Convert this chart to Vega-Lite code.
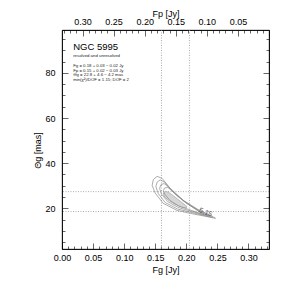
{
  "$schema": "https://vega.github.io/schema/vega-lite/v6.json",
  "width": 207,
  "height": 219,
  "autosize": {"type": "none"},
  "padding": {"left": 62, "top": 30, "right": 30, "bottom": 45},
  "background": "white",
  "config": {
    "view": {"stroke": "black", "strokeWidth": 0.8},
    "font": "Liberation Sans",
    "axis": {
      "grid": false,
      "domainColor": "black",
      "domainWidth": 0.8,
      "tickColor": "black",
      "tickWidth": 0.6,
      "labelColor": "black",
      "titleColor": "black",
      "labelFont": "Liberation Sans",
      "titleFont": "Liberation Sans",
      "labelFontSize": 9,
      "titleFontSize": 9,
      "titleFontWeight": "normal"
    }
  },
  "datasets": {
    "cont": [
      {"c": 1, "o": 0, "fg": 0.247, "th": 15.6},
      {"c": 1, "o": 1, "fg": 0.206, "th": 17.8},
      {"c": 1, "o": 2, "fg": 0.185, "th": 19.1},
      {"c": 1, "o": 3, "fg": 0.163, "th": 22.2},
      {"c": 1, "o": 4, "fg": 0.150, "th": 26.7},
      {"c": 1, "o": 5, "fg": 0.145, "th": 30.2},
      {"c": 1, "o": 6, "fg": 0.147, "th": 32.8},
      {"c": 1, "o": 7, "fg": 0.153, "th": 34.2},
      {"c": 1, "o": 8, "fg": 0.161, "th": 33.3},
      {"c": 1, "o": 9, "fg": 0.174, "th": 28.9},
      {"c": 1, "o": 10, "fg": 0.195, "th": 23.6},
      {"c": 1, "o": 11, "fg": 0.218, "th": 19.6},
      {"c": 1, "o": 12, "fg": 0.239, "th": 16.9},
      {"c": 1, "o": 13, "fg": 0.247, "th": 15.6},
      {"c": 2, "o": 0, "fg": 0.242, "th": 16.0},
      {"c": 2, "o": 1, "fg": 0.205, "th": 18.4},
      {"c": 2, "o": 2, "fg": 0.186, "th": 19.7},
      {"c": 2, "o": 3, "fg": 0.166, "th": 22.6},
      {"c": 2, "o": 4, "fg": 0.155, "th": 26.5},
      {"c": 2, "o": 5, "fg": 0.151, "th": 29.6},
      {"c": 2, "o": 6, "fg": 0.153, "th": 31.6},
      {"c": 2, "o": 7, "fg": 0.158, "th": 32.6},
      {"c": 2, "o": 8, "fg": 0.165, "th": 31.6},
      {"c": 2, "o": 9, "fg": 0.177, "th": 27.8},
      {"c": 2, "o": 10, "fg": 0.197, "th": 23.0},
      {"c": 2, "o": 11, "fg": 0.219, "th": 19.3},
      {"c": 2, "o": 12, "fg": 0.236, "th": 16.9},
      {"c": 2, "o": 13, "fg": 0.242, "th": 16.0},
      {"c": 3, "o": 0, "fg": 0.236, "th": 16.5},
      {"c": 3, "o": 1, "fg": 0.204, "th": 19.0},
      {"c": 3, "o": 2, "fg": 0.187, "th": 20.4},
      {"c": 3, "o": 3, "fg": 0.170, "th": 23.0},
      {"c": 3, "o": 4, "fg": 0.160, "th": 26.3},
      {"c": 3, "o": 5, "fg": 0.157, "th": 28.8},
      {"c": 3, "o": 6, "fg": 0.159, "th": 30.4},
      {"c": 3, "o": 7, "fg": 0.164, "th": 31.0},
      {"c": 3, "o": 8, "fg": 0.170, "th": 29.8},
      {"c": 3, "o": 9, "fg": 0.181, "th": 26.6},
      {"c": 3, "o": 10, "fg": 0.199, "th": 22.5},
      {"c": 3, "o": 11, "fg": 0.219, "th": 19.0},
      {"c": 3, "o": 12, "fg": 0.232, "th": 17.1},
      {"c": 3, "o": 13, "fg": 0.236, "th": 16.5},
      {"c": 4, "o": 0, "fg": 0.228, "th": 17.2},
      {"c": 4, "o": 1, "fg": 0.203, "th": 19.6},
      {"c": 4, "o": 2, "fg": 0.188, "th": 21.0},
      {"c": 4, "o": 3, "fg": 0.174, "th": 23.4},
      {"c": 4, "o": 4, "fg": 0.166, "th": 26.0},
      {"c": 4, "o": 5, "fg": 0.163, "th": 27.8},
      {"c": 4, "o": 6, "fg": 0.165, "th": 29.0},
      {"c": 4, "o": 7, "fg": 0.170, "th": 29.3},
      {"c": 4, "o": 8, "fg": 0.176, "th": 28.0},
      {"c": 4, "o": 9, "fg": 0.186, "th": 25.4},
      {"c": 4, "o": 10, "fg": 0.201, "th": 22.2},
      {"c": 4, "o": 11, "fg": 0.218, "th": 19.0},
      {"c": 4, "o": 12, "fg": 0.226, "th": 17.6},
      {"c": 4, "o": 13, "fg": 0.228, "th": 17.2}
    ],
    "blob": [
      {"o": 0, "fg": 0.163, "th": 26.8},
      {"o": 1, "fg": 0.166, "th": 27.5},
      {"o": 2, "fg": 0.171, "th": 27.2},
      {"o": 3, "fg": 0.180, "th": 25.4},
      {"o": 4, "fg": 0.192, "th": 22.8},
      {"o": 5, "fg": 0.201, "th": 20.8},
      {"o": 6, "fg": 0.200, "th": 20.2},
      {"o": 7, "fg": 0.193, "th": 20.5},
      {"o": 8, "fg": 0.181, "th": 21.9},
      {"o": 9, "fg": 0.170, "th": 23.8},
      {"o": 10, "fg": 0.164, "th": 25.5},
      {"o": 11, "fg": 0.163, "th": 26.8}
    ],
    "vr": [{"fg": 0.16}, {"fg": 0.205}],
    "hr": [{"th": 27.4}, {"th": 18.6}],
    "clabel": [{"fg": 0.231, "th": 18.2, "t": "5.15"}],
    "title": [{"fg": 0.018, "th": 91.6, "t": "NGC 5995"}],
    "notes": [
      {"fg": 0.018, "th": 87.3, "t": "resolved and unresolved"},
      {"fg": 0.018, "th": 82.9, "t": "Fg = 0.18 + 0.03 − 0.02 Jy"},
      {"fg": 0.018, "th": 80.9, "t": "Fp = 0.15 + 0.02 − 0.03 Jy"},
      {"fg": 0.018, "th": 78.9, "t": "Θg = 22.8 +  4.6 −  4.2 mas"},
      {"fg": 0.018, "th": 76.9, "t": "min(χ²)/DOF =  1.15; DOF =  2"}
    ]
  },
  "layer": [
    {
      "layer": [
        {
          "data": {"name": "vr"},
          "mark": {"type": "rule", "color": "#888888", "strokeDash": [1, 1.5], "strokeWidth": 0.7},
          "encoding": {
            "x": {"field": "fg", "type": "quantitative", "scale": {"domain": [0, 0.333], "nice": false, "zero": false}, "axis": null}
          }
        },
        {
          "data": {"name": "hr"},
          "mark": {"type": "rule", "color": "#888888", "strokeDash": [1, 1.5], "strokeWidth": 0.7},
          "encoding": {
            "y": {"field": "th", "type": "quantitative", "scale": {"domain": [2, 99], "nice": false, "zero": false}, "axis": null}
          }
        },
        {
          "data": {"name": "blob"},
          "mark": {"type": "line", "fill": "#d6d6d6", "stroke": "#999999", "strokeWidth": 0.6},
          "encoding": {
            "x": {"field": "fg", "type": "quantitative", "scale": {"domain": [0, 0.333], "nice": false, "zero": false}, "axis": null},
            "y": {"field": "th", "type": "quantitative", "scale": {"domain": [2, 99], "nice": false, "zero": false}, "axis": null},
            "order": {"field": "o", "type": "quantitative"}
          }
        },
        {
          "data": {"name": "cont"},
          "mark": {"type": "line", "stroke": "#8a8a8a", "strokeWidth": 0.7},
          "encoding": {
            "x": {"field": "fg", "type": "quantitative", "scale": {"domain": [0, 0.333], "nice": false, "zero": false}, "axis": null},
            "y": {"field": "th", "type": "quantitative", "scale": {"domain": [2, 99], "nice": false, "zero": false}, "axis": null},
            "detail": {"field": "c", "type": "nominal"},
            "order": {"field": "o", "type": "quantitative"}
          }
        },
        {
          "data": {"name": "clabel"},
          "mark": {"type": "text", "fontSize": 7, "angle": 22, "color": "#555555", "font": "Liberation Sans"},
          "encoding": {
            "x": {"field": "fg", "type": "quantitative", "scale": {"domain": [0, 0.333], "nice": false, "zero": false}, "axis": null},
            "y": {"field": "th", "type": "quantitative", "scale": {"domain": [2, 99], "nice": false, "zero": false}, "axis": null},
            "text": {"field": "t"}
          }
        },
        {
          "data": {"name": "title"},
          "mark": {"type": "text", "fontSize": 9.5, "align": "left", "baseline": "middle", "color": "black", "font": "Liberation Sans"},
          "encoding": {
            "x": {"field": "fg", "type": "quantitative", "scale": {"domain": [0, 0.333], "nice": false, "zero": false}, "axis": null},
            "y": {"field": "th", "type": "quantitative", "scale": {"domain": [2, 99], "nice": false, "zero": false}, "axis": null},
            "text": {"field": "t"}
          }
        },
        {
          "data": {"name": "notes"},
          "mark": {"type": "text", "fontSize": 4.3, "align": "left", "baseline": "middle", "color": "#222222", "font": "Liberation Sans"},
          "encoding": {
            "x": {"field": "fg", "type": "quantitative", "scale": {"domain": [0, 0.333], "nice": false, "zero": false}, "axis": null},
            "y": {"field": "th", "type": "quantitative", "scale": {"domain": [2, 99], "nice": false, "zero": false}, "axis": null},
            "text": {"field": "t"}
          }
        }
      ]
    },
    {
      "data": {"values": [{"fg": 0.1, "th": 50}]},
      "mark": {"type": "point", "opacity": 0},
      "encoding": {
        "x": {
          "field": "fg", "type": "quantitative",
          "scale": {"domain": [0, 0.333], "nice": false, "zero": false},
          "axis": {
            "orient": "bottom",
            "title": "Fg [Jy]",
            "values": [0, 0.01, 0.02, 0.03, 0.04, 0.05, 0.06, 0.07, 0.08, 0.09, 0.1, 0.11, 0.12, 0.13, 0.14, 0.15, 0.16, 0.17, 0.18, 0.19, 0.2, 0.21, 0.22, 0.23, 0.24, 0.25, 0.26, 0.27, 0.28, 0.29, 0.3, 0.31, 0.32, 0.33],
            "labelExpr": "round(datum.value*100)%5==0 ? format(datum.value,'.2f') : ''",
            "tickSize": {"condition": {"test": "round(datum.value*100)%5==0", "value": -6}, "value": -3},
            "labelPadding": 10,
            "labelFlush": false,
            "labelOverlap": false,
            "titlePadding": 0
          }
        },
        "y": {
          "field": "th", "type": "quantitative",
          "scale": {"domain": [2, 99], "nice": false, "zero": false},
          "axis": {
            "orient": "left",
            "title": "Θg [mas]",
            "values": [5, 10, 15, 20, 25, 30, 35, 40, 45, 50, 55, 60, 65, 70, 75, 80, 85, 90, 95],
            "labelExpr": "datum.value%20==0 ? format(datum.value,'d') : ''",
            "tickSize": {"condition": {"test": "datum.value%20==0", "value": -6}, "value": -3},
            "labelPadding": 13,
            "labelFlush": false,
            "labelOverlap": false,
            "titleX": -25,
            "titleY": 120,
            "titleBaseline": "middle"
          }
        }
      }
    },
    {
      "data": {"values": [{"fp": 0.1, "th": 50}]},
      "mark": {"type": "point", "opacity": 0},
      "encoding": {
        "x": {
          "field": "fp", "type": "quantitative",
          "scale": {"domain": [0, 0.333], "reverse": true, "nice": false, "zero": false},
          "axis": {
            "orient": "top",
            "title": "Fp [Jy]",
            "values": [0, 0.01, 0.02, 0.03, 0.04, 0.05, 0.06, 0.07, 0.08, 0.09, 0.1, 0.11, 0.12, 0.13, 0.14, 0.15, 0.16, 0.17, 0.18, 0.19, 0.2, 0.21, 0.22, 0.23, 0.24, 0.25, 0.26, 0.27, 0.28, 0.29, 0.3, 0.31, 0.32, 0.33],
            "labelExpr": "(round(datum.value*100)%5==0 && datum.value>0.001) ? format(datum.value,'.2f') : ''",
            "tickSize": {"condition": {"test": "round(datum.value*100)%5==0", "value": -6}, "value": -3},
            "labelPadding": 10,
            "labelFlush": false,
            "labelOverlap": false,
            "titlePadding": -4
          }
        },
        "y": {"field": "th", "type": "quantitative", "scale": {"domain": [2, 99], "nice": false, "zero": false}, "axis": null}
      }
    },
    {
      "data": {"values": [{"fg": 0.1, "th": 50}]},
      "mark": {"type": "point", "opacity": 0},
      "encoding": {
        "x": {"field": "fg", "type": "quantitative", "scale": {"domain": [0, 0.333], "nice": false, "zero": false}, "axis": null},
        "y": {
          "field": "th", "type": "quantitative",
          "scale": {"domain": [2, 99], "nice": false, "zero": false},
          "axis": {
            "orient": "right",
            "title": null,
            "values": [5, 10, 15, 20, 25, 30, 35, 40, 45, 50, 55, 60, 65, 70, 75, 80, 85, 90, 95],
            "labels": false,
            "tickSize": {"condition": {"test": "datum.value%20==0", "value": -6}, "value": -3}
          }
        }
      }
    }
  ],
  "resolve": {"scale": {"x": "independent", "y": "independent"}}
}
